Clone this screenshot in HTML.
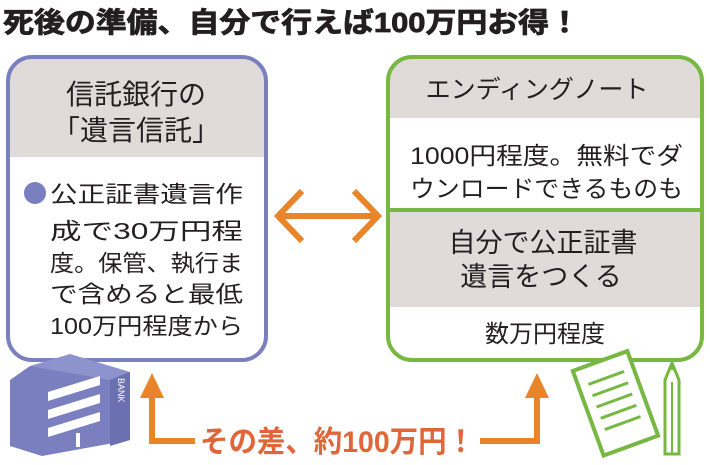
<!DOCTYPE html>
<html><head><meta charset="utf-8"><style>
html,body{margin:0;padding:0;background:#fff;}
svg{display:block;}
text{font-family:"Liberation Sans","Noto Sans CJK JP",sans-serif;fill:#231f20;}
</style></head><body>
<svg width="710" height="465" viewBox="0 0 710 465" xmlns="http://www.w3.org/2000/svg">
<text x="3" y="32" font-size="28" font-weight="bold" textLength="577" lengthAdjust="spacingAndGlyphs" stroke="#231f20" stroke-width="0.8">死後の準備、自分で行えば100万円お得！</text>

<defs>
<clipPath id="cl"><rect x="8" y="57" width="258" height="303" rx="24"/></clipPath>
<clipPath id="cr"><rect x="388" y="57" width="314" height="303" rx="24"/></clipPath>
</defs>
<g clip-path="url(#cl)">
<rect x="8" y="57" width="258" height="100" fill="#e0dbd8"/>
</g>
<rect x="8" y="57" width="258" height="303" rx="24" fill="none" stroke="#7a80bf" stroke-width="4"/>
<text x="136" y="104" font-size="28" text-anchor="middle">信託銀行の</text>
<text x="136" y="140" font-size="28" text-anchor="middle">「遺言信託」</text>
<circle cx="35" cy="193" r="11" fill="#7a80bf"/>
<g font-size="23">
<text x="50" y="202" textLength="193" lengthAdjust="spacingAndGlyphs">公正証書遺言作</text>
<text x="50" y="239" textLength="193" lengthAdjust="spacingAndGlyphs">成で30万円程</text>
<text x="50" y="271" textLength="193" lengthAdjust="spacingAndGlyphs">度。保管、執行ま</text>
<text x="50" y="302" textLength="193" lengthAdjust="spacingAndGlyphs">で含めると最低</text>
<text x="50" y="334" textLength="193" lengthAdjust="spacingAndGlyphs">100万円程度から</text>
</g>

<g clip-path="url(#cr)">
<rect x="388" y="57" width="314" height="61" fill="#e0dbd8"/>
<rect x="388" y="211" width="314" height="96" fill="#e0dbd8"/>
</g>
<line x1="388" y1="210" x2="702" y2="210" stroke="#77b843" stroke-width="4"/>
<rect x="388" y="57" width="314" height="303" rx="24" fill="none" stroke="#77b843" stroke-width="4"/>
<text x="537" y="98" font-size="25" text-anchor="middle">エンディングノート</text>
<text x="410" y="164" font-size="24" textLength="273" lengthAdjust="spacingAndGlyphs">1000円程度。無料でダ</text>
<text x="410" y="197" font-size="24" textLength="273" lengthAdjust="spacingAndGlyphs">ウンロードできるものも</text>
<text x="543" y="252" font-size="27" text-anchor="middle">自分で公正証書</text>
<text x="541" y="286" font-size="27" text-anchor="middle">遺言をつくる</text>
<text x="545" y="342" font-size="24" text-anchor="middle">数万円程度</text>

<g stroke="#e8842a" stroke-width="6" fill="none" stroke-linecap="butt">
<line x1="278" y1="216" x2="378" y2="216"/>
<polyline points="302,191 278,216 302,241"/>
<polyline points="354,191 378,216 354,241"/>
</g>

<g stroke="#e8842a" stroke-width="6" fill="none">
<polyline points="195,441 152,441 152,395"/>
<polyline points="480,441 537,441 537,395"/>
</g>
<polygon points="140,398 164,398 152,373" fill="#e8842a"/>
<polygon points="525,398 549,398 537,373" fill="#e8842a"/>
<text x="200" y="452" font-size="30" font-weight="bold" style="fill:#e0663a" textLength="275" lengthAdjust="spacingAndGlyphs">その差、約100万円！</text>

<polygon points="10,380 30,366 130,372 130,440 42,456 10,446" fill="#7a80bf"/>
<polygon points="30,366 70,354 130,372 110,380" fill="#8d93cc"/>
<polygon points="110,380 130,372 130,440 110,446" fill="#6a70b0"/>
<g fill="#fff">
<polygon points="48,392 100,376 100,385 48,401"/>
<polygon points="48,410 100,394 100,403 48,419"/>
<polygon points="48,428 100,412 100,421 48,437"/>
<rect x="76" y="433" width="4" height="14"/>
</g>
<text x="0" y="0" font-size="9" style="fill:#fff" transform="translate(118,378) rotate(90)">BANK</text>

<g transform="rotate(-20 610 400)">
<rect x="585" y="360" width="58" height="90" fill="#fff" stroke="#77b843" stroke-width="4"/>
<g stroke="#77b843" stroke-width="3">
<line x1="595" y1="378" x2="633" y2="378"/>
<line x1="595" y1="390" x2="633" y2="390"/>
<line x1="595" y1="402" x2="633" y2="402"/>
<line x1="595" y1="414" x2="633" y2="414"/>
<line x1="595" y1="426" x2="633" y2="426"/>
</g>
</g>
<polygon points="665,380 672,363 679,380 679,454 665,454" fill="#fff" stroke="#77b843" stroke-width="3"/>
<line x1="672" y1="382" x2="672" y2="454" stroke="#77b843" stroke-width="2"/>
<polygon points="669,370 672,363 675,370" fill="#77b843"/>
</svg>
</body></html>
